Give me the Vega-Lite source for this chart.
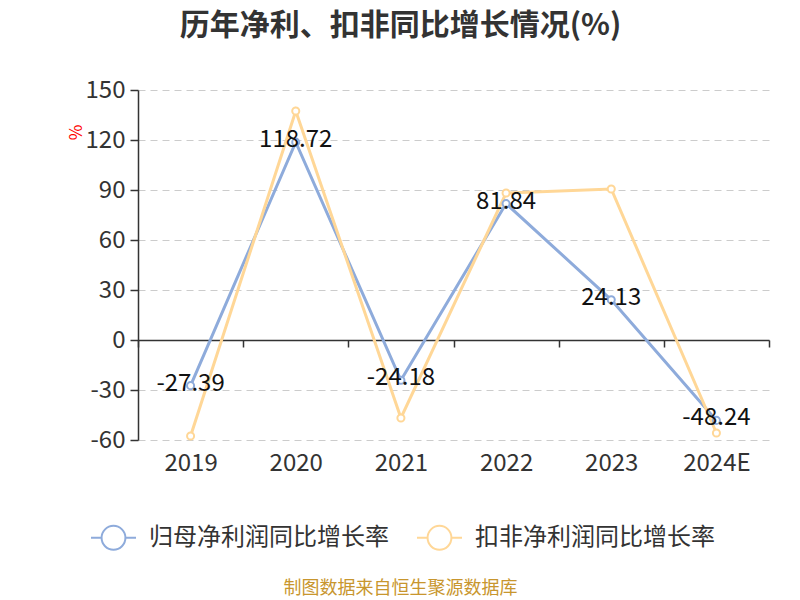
{
  "$schema": "https://vega.github.io/schema/vega-lite/v6.json",
  "width": 631,
  "height": 350,
  "autosize": {"type": "none"},
  "padding": {"left": 138, "top": 90, "right": 31, "bottom": 160},
  "background": "white",
  "config": {
    "font": "Noto Sans CJK SC",
    "view": {"stroke": null},
    "locale": {"number": {"decimal": ".", "thousands": ",", "grouping": [3], "currency": ["", ""], "minus": "-"}}
  },
  "title": {
    "text": "历年净利、扣非同比增长情况(%)",
    "fontSize": 30,
    "fontWeight": "bold",
    "color": "#333333",
    "anchor": "middle",
    "dx": -53,
    "offset": 37
  },
  "data": {
    "values": [
      {"year": "2019", "series": "归母净利润同比增长率", "value": -27.39},
      {"year": "2020", "series": "归母净利润同比增长率", "value": 118.72},
      {"year": "2021", "series": "归母净利润同比增长率", "value": -24.18},
      {"year": "2022", "series": "归母净利润同比增长率", "value": 81.84},
      {"year": "2023", "series": "归母净利润同比增长率", "value": 24.13},
      {"year": "2024E", "series": "归母净利润同比增长率", "value": -48.24},
      {"year": "2019", "series": "扣非净利润同比增长率", "value": -57.6},
      {"year": "2020", "series": "扣非净利润同比增长率", "value": 137.4},
      {"year": "2021", "series": "扣非净利润同比增长率", "value": -46.8},
      {"year": "2022", "series": "扣非净利润同比增长率", "value": 88.2},
      {"year": "2023", "series": "扣非净利润同比增长率", "value": 90.6},
      {"year": "2024E", "series": "扣非净利润同比增长率", "value": -55.8}
    ]
  },
  "encoding": {
    "x": {
      "field": "year",
      "type": "nominal",
      "sort": null,
      "scale": {"type": "band", "paddingInner": 0, "paddingOuter": 0}
    },
    "y": {
      "field": "value",
      "type": "quantitative",
      "scale": {"domain": [-60, 150], "nice": false, "zero": false}
    }
  },
  "layer": [
    {
      "mark": {"type": "line", "strokeWidth": 3},
      "encoding": {
        "x": {
          "field": "year",
          "type": "nominal",
          "sort": null,
          "scale": {"type": "band", "paddingInner": 0, "paddingOuter": 0},
          "axis": {
            "title": "制图数据来自恒生聚源数据库",
            "offset": -100,
            "domainColor": "#333333",
            "domainWidth": 1.5,
            "tickColor": "#333333",
            "tickWidth": 1.5,
            "tickSize": 7,
            "tickBand": "extent",
            "labelPadding": 104,
            "labelFontSize": 24,
            "labelColor": "#333333",
            "labelAngle": 0,
            "labelBaseline": "top",
            "titleX": 262,
            "titleY": 248,
            "titleAlign": "center",
            "titleBaseline": "middle",
            "titleFontSize": 18,
            "titleFontWeight": "normal",
            "titleColor": "#C8962E"
          }
        },
        "y": {
          "field": "value",
          "type": "quantitative",
          "scale": {"domain": [-60, 150], "nice": false, "zero": false},
          "axis": {
            "values": [-60, -30, 0, 30, 60, 90, 120, 150],
            "title": "%",
            "titleColor": "#ff0000",
            "titleFontSize": 17,
            "titleFontWeight": "normal",
            "titleX": -62,
            "titleY": 42,
            "titleAngle": 270,
            "titleAlign": "center",
            "titleBaseline": "middle",
            "grid": true,
            "gridDash": [7, 5],
            "gridColor": "#cccccc",
            "gridWidth": 1,
            "domainColor": "#333333",
            "domainWidth": 1.5,
            "tickColor": "#333333",
            "tickWidth": 1.5,
            "tickSize": 8,
            "labelFontSize": 24,
            "labelColor": "#333333",
            "labelPadding": 5
          }
        },
        "color": {
          "field": "series",
          "type": "nominal",
          "scale": {
            "domain": ["归母净利润同比增长率", "扣非净利润同比增长率"],
            "range": ["#8eabdb", "#ffd797"]
          },
          "legend": {
            "title": null,
            "orient": "none",
            "legendX": -48,
            "legendY": 424,
            "direction": "horizontal",
            "symbolType": "M-1,0H-0.53M0.53,0H1M-0.53,0A0.53,0.53,0,1,1,0.53,0A0.53,0.53,0,1,1,-0.53,0",
            "symbolSize": 2025,
            "symbolStrokeWidth": 2,
            "symbolFillColor": "white",
            "labelFontSize": 24,
            "labelLimit": 0,
            "labelColor": "#333333",
            "labelOffset": 12,
            "columnPadding": 24
          }
        }
      }
    },
    {
      "mark": {"type": "point", "filled": true, "fill": "white", "size": 50, "strokeWidth": 2, "opacity": 1},
      "encoding": {
        "stroke": {"field": "series", "type": "nominal", "legend": null,
          "scale": {
            "domain": ["归母净利润同比增长率", "扣非净利润同比增长率"],
            "range": ["#8eabdb", "#ffd797"]
          }
        }
      }
    },
    {
      "transform": [{"filter": "datum.series === '归母净利润同比增长率'"}],
      "mark": {"type": "text", "fontSize": 24, "color": "#111111", "align": "center", "baseline": "middle", "dy": -2},
      "encoding": {
        "text": {"field": "value", "type": "quantitative", "format": ".2f"}
      }
    }
  ]
}
